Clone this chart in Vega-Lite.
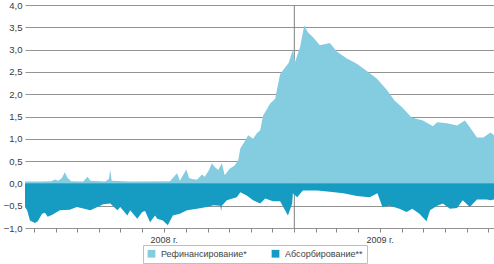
{
  "$schema": "https://vega.github.io/schema/vega-lite/v6.json",
  "width": 469,
  "height": 223,
  "autosize": "none",
  "padding": {"left": 25, "top": 5, "right": 0, "bottom": 36},
  "background": "white",
  "config": {
    "view": {"stroke": null},
    "font": "Liberation Sans",
    "axis": {"labelFont": "Liberation Sans", "labelFontSize": 9.5, "labelColor": "#3a3a3a"},
    "legend": {"labelFont": "Liberation Sans", "labelFontSize": 9, "labelColor": "#444"}
  },
  "datasets": {
    "series": [
      {"date": "2007-12-19", "s": "Рефинансирование*", "v": 0.04},
      {"date": "2008-01-10", "s": "Рефинансирование*", "v": 0.04},
      {"date": "2008-01-25", "s": "Рефинансирование*", "v": 0.05},
      {"date": "2008-01-30", "s": "Рефинансирование*", "v": 0.09},
      {"date": "2008-02-04", "s": "Рефинансирование*", "v": 0.06},
      {"date": "2008-02-09", "s": "Рефинансирование*", "v": 0.12},
      {"date": "2008-02-13", "s": "Рефинансирование*", "v": 0.25},
      {"date": "2008-02-17", "s": "Рефинансирование*", "v": 0.12},
      {"date": "2008-02-22", "s": "Рефинансирование*", "v": 0.05},
      {"date": "2008-03-10", "s": "Рефинансирование*", "v": 0.04},
      {"date": "2008-03-16", "s": "Рефинансирование*", "v": 0.15},
      {"date": "2008-03-20", "s": "Рефинансирование*", "v": 0.06},
      {"date": "2008-04-10", "s": "Рефинансирование*", "v": 0.04},
      {"date": "2008-04-15", "s": "Рефинансирование*", "v": 0.1},
      {"date": "2008-04-17", "s": "Рефинансирование*", "v": 0.3},
      {"date": "2008-04-19", "s": "Рефинансирование*", "v": 0.06},
      {"date": "2008-05-15", "s": "Рефинансирование*", "v": 0.04},
      {"date": "2008-07-10", "s": "Рефинансирование*", "v": 0.05},
      {"date": "2008-07-20", "s": "Рефинансирование*", "v": 0.23},
      {"date": "2008-07-24", "s": "Рефинансирование*", "v": 0.06},
      {"date": "2008-08-02", "s": "Рефинансирование*", "v": 0.31},
      {"date": "2008-08-06", "s": "Рефинансирование*", "v": 0.12},
      {"date": "2008-08-10", "s": "Рефинансирование*", "v": 0.1},
      {"date": "2008-08-17", "s": "Рефинансирование*", "v": 0.08},
      {"date": "2008-08-24", "s": "Рефинансирование*", "v": 0.2},
      {"date": "2008-08-28", "s": "Рефинансирование*", "v": 0.15},
      {"date": "2008-09-03", "s": "Рефинансирование*", "v": 0.3},
      {"date": "2008-09-07", "s": "Рефинансирование*", "v": 0.45},
      {"date": "2008-09-11", "s": "Рефинансирование*", "v": 0.37},
      {"date": "2008-09-16", "s": "Рефинансирование*", "v": 0.3},
      {"date": "2008-09-21", "s": "Рефинансирование*", "v": 0.45},
      {"date": "2008-09-25", "s": "Рефинансирование*", "v": 0.18},
      {"date": "2008-10-02", "s": "Рефинансирование*", "v": 0.33},
      {"date": "2008-10-09", "s": "Рефинансирование*", "v": 0.4},
      {"date": "2008-10-14", "s": "Рефинансирование*", "v": 0.52},
      {"date": "2008-10-17", "s": "Рефинансирование*", "v": 0.78},
      {"date": "2008-10-24", "s": "Рефинансирование*", "v": 0.96},
      {"date": "2008-10-28", "s": "Рефинансирование*", "v": 1.08},
      {"date": "2008-11-04", "s": "Рефинансирование*", "v": 1.0},
      {"date": "2008-11-09", "s": "Рефинансирование*", "v": 1.12},
      {"date": "2008-11-14", "s": "Рефинансирование*", "v": 1.19},
      {"date": "2008-11-18", "s": "Рефинансирование*", "v": 1.52},
      {"date": "2008-11-24", "s": "Рефинансирование*", "v": 1.68},
      {"date": "2008-11-28", "s": "Рефинансирование*", "v": 1.79},
      {"date": "2008-12-05", "s": "Рефинансирование*", "v": 1.9},
      {"date": "2008-12-12", "s": "Рефинансирование*", "v": 2.45},
      {"date": "2008-12-19", "s": "Рефинансирование*", "v": 2.6},
      {"date": "2008-12-24", "s": "Рефинансирование*", "v": 2.7},
      {"date": "2008-12-30", "s": "Рефинансирование*", "v": 3.0},
      {"date": "2009-01-02", "s": "Рефинансирование*", "v": 2.72},
      {"date": "2009-01-09", "s": "Рефинансирование*", "v": 3.05},
      {"date": "2009-01-15", "s": "Рефинансирование*", "v": 3.54},
      {"date": "2009-01-20", "s": "Рефинансирование*", "v": 3.39},
      {"date": "2009-01-27", "s": "Рефинансирование*", "v": 3.28},
      {"date": "2009-02-06", "s": "Рефинансирование*", "v": 3.1},
      {"date": "2009-02-20", "s": "Рефинансирование*", "v": 3.15},
      {"date": "2009-03-02", "s": "Рефинансирование*", "v": 2.95},
      {"date": "2009-03-16", "s": "Рефинансирование*", "v": 2.8},
      {"date": "2009-03-30", "s": "Рефинансирование*", "v": 2.68},
      {"date": "2009-04-13", "s": "Рефинансирование*", "v": 2.52},
      {"date": "2009-04-27", "s": "Рефинансирование*", "v": 2.35},
      {"date": "2009-05-11", "s": "Рефинансирование*", "v": 2.1},
      {"date": "2009-05-22", "s": "Рефинансирование*", "v": 1.86},
      {"date": "2009-06-02", "s": "Рефинансирование*", "v": 1.7},
      {"date": "2009-06-15", "s": "Рефинансирование*", "v": 1.48},
      {"date": "2009-07-01", "s": "Рефинансирование*", "v": 1.41},
      {"date": "2009-07-15", "s": "Рефинансирование*", "v": 1.28},
      {"date": "2009-07-21", "s": "Рефинансирование*", "v": 1.37},
      {"date": "2009-08-04", "s": "Рефинансирование*", "v": 1.35},
      {"date": "2009-08-18", "s": "Рефинансирование*", "v": 1.3},
      {"date": "2009-08-29", "s": "Рефинансирование*", "v": 1.41},
      {"date": "2009-09-05", "s": "Рефинансирование*", "v": 1.26},
      {"date": "2009-09-15", "s": "Рефинансирование*", "v": 1.03},
      {"date": "2009-09-24", "s": "Рефинансирование*", "v": 1.03},
      {"date": "2009-10-04", "s": "Рефинансирование*", "v": 1.14},
      {"date": "2009-10-09", "s": "Рефинансирование*", "v": 1.08},
      {"date": "2007-12-19", "s": "Абсорбирование**", "v": -0.53},
      {"date": "2007-12-22", "s": "Абсорбирование**", "v": -0.6},
      {"date": "2007-12-26", "s": "Абсорбирование**", "v": -0.83},
      {"date": "2008-01-02", "s": "Абсорбирование**", "v": -0.89},
      {"date": "2008-01-06", "s": "Абсорбирование**", "v": -0.85},
      {"date": "2008-01-12", "s": "Абсорбирование**", "v": -0.68},
      {"date": "2008-01-16", "s": "Абсорбирование**", "v": -0.66},
      {"date": "2008-01-20", "s": "Абсорбирование**", "v": -0.75},
      {"date": "2008-01-27", "s": "Абсорбирование**", "v": -0.7},
      {"date": "2008-02-06", "s": "Абсорбирование**", "v": -0.6},
      {"date": "2008-02-20", "s": "Абсорбирование**", "v": -0.59},
      {"date": "2008-03-01", "s": "Абсорбирование**", "v": -0.53},
      {"date": "2008-03-10", "s": "Абсорбирование**", "v": -0.56},
      {"date": "2008-03-20", "s": "Абсорбирование**", "v": -0.6},
      {"date": "2008-03-30", "s": "Абсорбирование**", "v": -0.53},
      {"date": "2008-04-07", "s": "Абсорбирование**", "v": -0.47},
      {"date": "2008-04-17", "s": "Абсорбирование**", "v": -0.45},
      {"date": "2008-04-27", "s": "Абсорбирование**", "v": -0.6},
      {"date": "2008-05-01", "s": "Абсорбирование**", "v": -0.53},
      {"date": "2008-05-11", "s": "Абсорбирование**", "v": -0.72},
      {"date": "2008-05-15", "s": "Абсорбирование**", "v": -0.6},
      {"date": "2008-05-25", "s": "Абсорбирование**", "v": -0.79},
      {"date": "2008-06-01", "s": "Абсорбирование**", "v": -0.64},
      {"date": "2008-06-05", "s": "Абсорбирование**", "v": -0.62},
      {"date": "2008-06-12", "s": "Абсорбирование**", "v": -0.87},
      {"date": "2008-06-19", "s": "Абсорбирование**", "v": -0.72},
      {"date": "2008-06-22", "s": "Абсорбирование**", "v": -0.79},
      {"date": "2008-06-30", "s": "Абсорбирование**", "v": -0.83},
      {"date": "2008-07-07", "s": "Абсорбирование**", "v": -0.94},
      {"date": "2008-07-14", "s": "Абсорбирование**", "v": -0.72},
      {"date": "2008-07-24", "s": "Абсорбирование**", "v": -0.68},
      {"date": "2008-08-03", "s": "Абсорбирование**", "v": -0.6},
      {"date": "2008-08-17", "s": "Абсорбирование**", "v": -0.57},
      {"date": "2008-08-31", "s": "Абсорбирование**", "v": -0.53},
      {"date": "2008-09-09", "s": "Абсорбирование**", "v": -0.49},
      {"date": "2008-09-19", "s": "Абсорбирование**", "v": -0.5},
      {"date": "2008-09-20", "s": "Абсорбирование**", "v": -0.62},
      {"date": "2008-09-21", "s": "Абсорбирование**", "v": -0.5},
      {"date": "2008-09-28", "s": "Абсорбирование**", "v": -0.38},
      {"date": "2008-10-12", "s": "Абсорбирование**", "v": -0.31},
      {"date": "2008-10-17", "s": "Абсорбирование**", "v": -0.2},
      {"date": "2008-10-26", "s": "Абсорбирование**", "v": -0.27},
      {"date": "2008-11-04", "s": "Абсорбирование**", "v": -0.38},
      {"date": "2008-11-14", "s": "Абсорбирование**", "v": -0.45},
      {"date": "2008-11-21", "s": "Абсорбирование**", "v": -0.34},
      {"date": "2008-12-02", "s": "Абсорбирование**", "v": -0.4},
      {"date": "2008-12-12", "s": "Абсорбирование**", "v": -0.4},
      {"date": "2008-12-19", "s": "Абсорбирование**", "v": -0.6},
      {"date": "2008-12-23", "s": "Абсорбирование**", "v": -0.72},
      {"date": "2008-12-29", "s": "Абсорбирование**", "v": -0.45},
      {"date": "2008-12-30", "s": "Абсорбирование**", "v": -0.22},
      {"date": "2009-01-05", "s": "Абсорбирование**", "v": -0.31},
      {"date": "2009-01-13", "s": "Абсорбирование**", "v": -0.16},
      {"date": "2009-02-02", "s": "Абсорбирование**", "v": -0.16},
      {"date": "2009-02-20", "s": "Абсорбирование**", "v": -0.19},
      {"date": "2009-03-11", "s": "Абсорбирование**", "v": -0.22},
      {"date": "2009-03-30", "s": "Абсорбирование**", "v": -0.28},
      {"date": "2009-04-17", "s": "Абсорбирование**", "v": -0.31},
      {"date": "2009-04-28", "s": "Абсорбирование**", "v": -0.22},
      {"date": "2009-05-05", "s": "Абсорбирование**", "v": -0.53},
      {"date": "2009-05-15", "s": "Абсорбирование**", "v": -0.5},
      {"date": "2009-05-29", "s": "Абсорбирование**", "v": -0.57},
      {"date": "2009-06-08", "s": "Абсорбирование**", "v": -0.64},
      {"date": "2009-06-16", "s": "Абсорбирование**", "v": -0.57},
      {"date": "2009-06-26", "s": "Абсорбирование**", "v": -0.68},
      {"date": "2009-07-06", "s": "Абсорбирование**", "v": -0.85},
      {"date": "2009-07-11", "s": "Абсорбирование**", "v": -0.6},
      {"date": "2009-07-21", "s": "Абсорбирование**", "v": -0.5},
      {"date": "2009-07-29", "s": "Абсорбирование**", "v": -0.45},
      {"date": "2009-08-08", "s": "Абсорбирование**", "v": -0.57},
      {"date": "2009-08-18", "s": "Абсорбирование**", "v": -0.55},
      {"date": "2009-08-26", "s": "Абсорбирование**", "v": -0.38},
      {"date": "2009-09-05", "s": "Абсорбирование**", "v": -0.53},
      {"date": "2009-09-15", "s": "Абсорбирование**", "v": -0.36},
      {"date": "2009-09-29", "s": "Абсорбирование**", "v": -0.36},
      {"date": "2009-10-04", "s": "Абсорбирование**", "v": -0.38},
      {"date": "2009-10-09", "s": "Абсорбирование**", "v": -0.36}
    ],
    "marker": [{"date": "2009-01-01"}]
  },
  "layer": [
    {
      "data": {"name": "marker"},
      "mark": {"type": "rule", "color": "#808080", "strokeWidth": 1},
      "encoding": {
        "x": {"field": "date", "type": "temporal"}
      }
    },
    {
      "data": {"name": "series"},
      "mark": {"type": "area", "interpolate": "linear", "opacity": 1},
      "encoding": {
        "x": {
          "field": "date",
          "type": "temporal",
          "scale": {"domain": ["2007-12-19", "2009-10-09"]},
          "axis": {
            "title": null,
            "grid": false,
            "domain": false,
            "tickCount": {"interval": "month", "step": 1},
            "tickSize": 4,
            "tickColor": "#888",
            "labelOverlap": false,
            "labelFontSize": 9,
            "labelPadding": 3,
            "labelExpr": "(year(datum.value) == 2008 && month(datum.value) == 6) ? '2008 г.' : ((year(datum.value) == 2009 && month(datum.value) == 4) ? '2009 г.' : '')"
          }
        },
        "y": {
          "field": "v",
          "type": "quantitative",
          "stack": null,
          "scale": {"domain": [-1, 4], "nice": false},
          "axis": {
            "title": null,
            "values": [-1, -0.5, 0, 0.5, 1, 1.5, 2, 2.5, 3, 3.5, 4],
            "ticks": false,
            "domain": false,
            "gridColor": "#939393",
            "gridWidth": 1,
            "labelPadding": 3,
            "labelExpr": "replace(format(datum.value, '.1f'), '.', ',')"
          }
        },
        "color": {
          "field": "s",
          "type": "nominal",
          "scale": {
            "domain": ["Рефинансирование*", "Абсорбирование**"],
            "range": ["#84CCE0", "#169BC3"]
          },
          "legend": {
            "title": null,
            "orient": "none",
            "direction": "horizontal",
            "legendX": 118,
            "legendY": 240,
            "symbolType": "square",
            "symbolSize": 60,
            "symbolStrokeWidth": 0,
            "strokeColor": "#8FD0E3",
            "fillColor": "white",
            "padding": 4,
            "columnPadding": 24,
            "labelOffset": 5
          }
        }
      }
    }
  ]
}
